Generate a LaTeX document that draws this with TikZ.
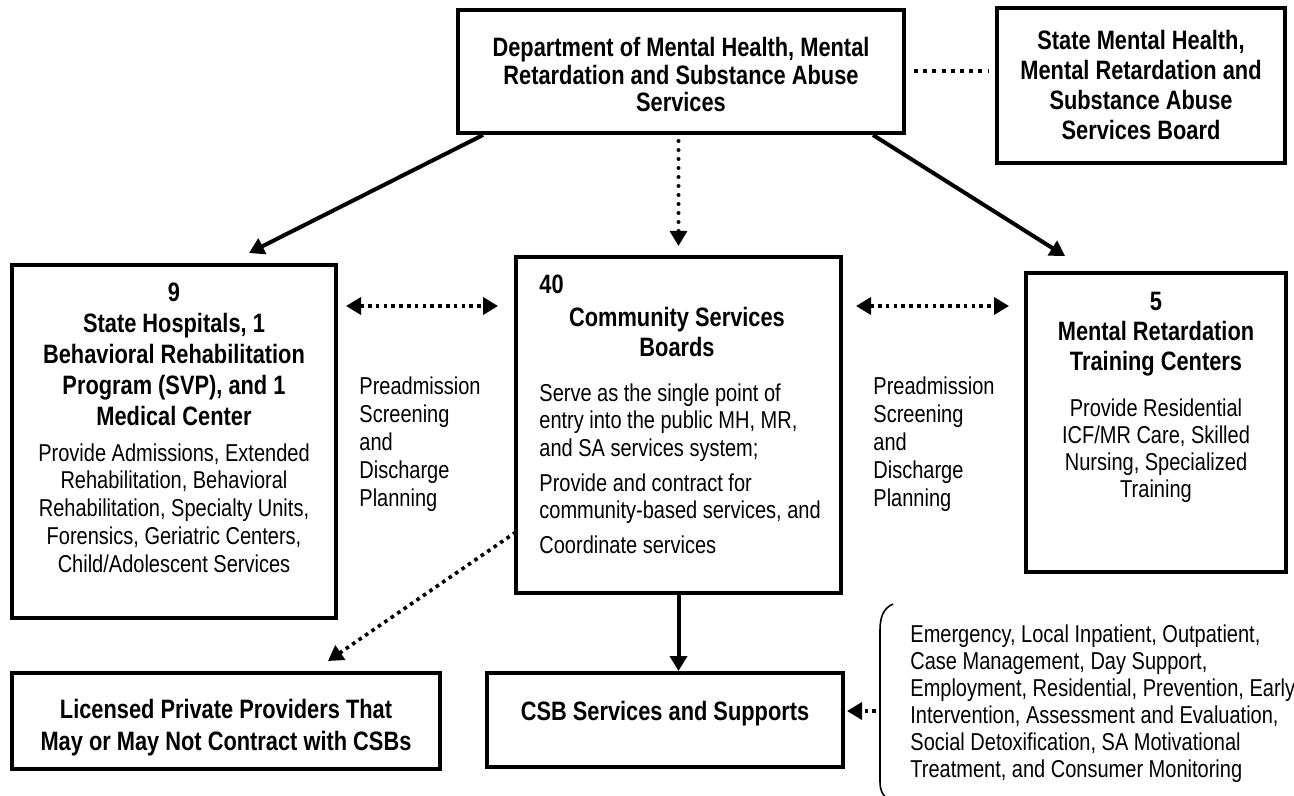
\documentclass[tikz,border=0pt]{standalone}
\usepackage{fontspec}
\setmainfont{Liberation Sans}[FakeStretch=0.82]
\usetikzlibrary{arrows.meta,calc}

\begin{document}
\begin{tikzpicture}[x=0.5pt,y=-0.5pt,
  >={Triangle[length=7.5pt,width=8.5pt]},
  box/.style={draw,line width=2pt,rectangle,inner sep=0pt},
  head/.style={font=\fontsize{13.3}{15.4}\selectfont\bfseries,align=center,inner sep=0pt,anchor=north},
  body/.style={font=\fontsize{12.2}{13.9}\selectfont,inner sep=0pt,anchor=north},
  solidarrow/.style={line width=2pt,->},
  dotline/.style={line width=1.8pt,dash pattern=on 1.8pt off 2.1pt},
  rounddots/.style={line width=2pt,line cap=round,dash pattern=on 0pt off 4.5pt},
  dotarrow/.style={dotline,->},
  dotboth/.style={dotline,<->},
]
\clip (0,0) rectangle (1294,796);
\fill[white] (0,0) rectangle (1294,796);

% ---- boxes ----
\node[box,minimum width=223pt,minimum height=61.5pt] (dept) at (681,71.5) {};
\node[box,minimum width=144pt,minimum height=77.5pt] (board) at (1141,85.5) {};
\node[box,minimum width=162pt,minimum height=176.5pt] (hosp) at (174,441.5) {};
\node[box,minimum width=162.5pt,minimum height=168pt] (csb) at (678.5,425) {};
\node[box,minimum width=130pt,minimum height=149.5pt] (mrtc) at (1156,422.5) {};
\node[box,minimum width=214pt,minimum height=48pt] (lpp) at (226,721) {};
\node[box,minimum width=178pt,minimum height=47pt] (svc) at (665,720) {};

% ---- box texts ----
\node[head,font=\fontsize{13.3}{13.75}\selectfont\bfseries] (deptT) at (681,37)
  {Department of Mental Health, Mental\\Retardation and Substance Abuse\\Services};
\node[head,font=\fontsize{13.3}{15}\selectfont\bfseries] (boardT) at (1141,30)
  {State Mental Health,\\Mental Retardation and\\Substance Abuse\\Services Board};

\node[head] (hospH) at (174,283)
  {9\\State Hospitals, 1\\Behavioral Rehabilitation\\Program (SVP), and 1\\Medical Center};
\node[body,align=center] (hospB) at (174,443)
  {Provide Admissions, Extended\\Rehabilitation, Behavioral\\Rehabilitation, Specialty Units,\\Forensics, Geriatric Centers,\\Child/Adolescent Services};

\node[head,anchor=north west] (csbN) at (539,275) {40};
\node[head,font=\fontsize{13.3}{15}\selectfont\bfseries] (csbH) at (677,307)
  {Community Services\\Boards};
\node[body,anchor=north west,align=left,font=\fontsize{12.2}{13.75}\selectfont] (csbB) at (539,383)
  {Serve as the single point of\\entry into the public MH, MR,\\and SA services system;\\[3.75pt]
   Provide and contract for\\community-based services, and\\[3.75pt]
   Coordinate services};

\node[head,font=\fontsize{13.3}{15}\selectfont\bfseries] (mrtcH) at (1156,292)
  {5\\Mental Retardation\\Training Centers};
\node[body,align=center,font=\fontsize{12.2}{13.5}\selectfont] (mrtcB) at (1156,398)
  {Provide Residential\\ICF/MR Care, Skilled\\Nursing, Specialized\\Training};

\node[head,font=\fontsize{13.3}{16}\selectfont\bfseries] (lppT) at (226,699)
  {Licensed Private Providers That\\May or May Not Contract with CSBs};
\node[head] (svcT) at (665,701) {CSB Services and Supports};

% ---- side labels ----
\node[body,anchor=north west,align=left,font=\fontsize{12.2}{14}\selectfont] (preL) at (359,376)
  {Preadmission\\Screening\\and\\Discharge\\Planning};
\node[body,anchor=north west,align=left,font=\fontsize{12.2}{14}\selectfont] (preR) at (873,376)
  {Preadmission\\Screening\\and\\Discharge\\Planning};
\node[body,anchor=north west,align=left,font=\fontsize{12.2}{13.5}\selectfont] (list) at (910,624)
  {Emergency, Local Inpatient, Outpatient,\\Case Management, Day Support,\\Employment, Residential, Prevention, Early\\Intervention, Assessment and Evaluation,\\Social Detoxification, SA Motivational\\Treatment, and Consumer Monitoring};

% ---- brace grouping the service list ----
\draw[line width=0.8pt] (893,604) .. controls (884,608) and (880,616) .. (880,630)
  -- (880,782) .. controls (880,792) and (884,798) .. (893,802);

% ---- connectors ----
\coordinate (ly) at (0,306);
\coordinate (bm) at (876,711);

\draw[line width=2pt,dash pattern=on 2pt off 2.6pt] ($(dept.east)+(8,0)$) -- ($(board.west |- dept.east)+(-6,0)$);
\draw[solidarrow] ($(dept.south west)+(27,0)$) -- ($(hosp.north)+(75,-10)$);
\draw[rounddots] ($(dept.south -| csb.north)+(0,6)$) -- ($(csb.north)+(0,-22)$);
\draw[->,line width=1.5pt] ($(csb.north)+(0,-20)$) -- ($(csb.north)+(0,-9)$);
\draw[solidarrow] ($(dept.south west)+(417,0)$) -- ($(mrtc.north)+(-91,-15)$);

\draw[dotboth] ($(hosp.east |- ly)+(8,0)$) -- ($(csb.west |- ly)+(-16,0)$);
\draw[dotboth] ($(csb.east |- ly)+(13,0)$) -- ($(mrtc.west |- ly)+(-15,0)$);

\draw[dotarrow] ($(csb.west)+(2,107)$) -- ($(lpp.north)+(102,-10)$);
\draw[solidarrow] (csb.south) -- (csb.south |- svc.north);
\draw[dotarrow] (bm) -- ($(bm -| svc.east)+(2,0)$);
\end{tikzpicture}
\end{document}
